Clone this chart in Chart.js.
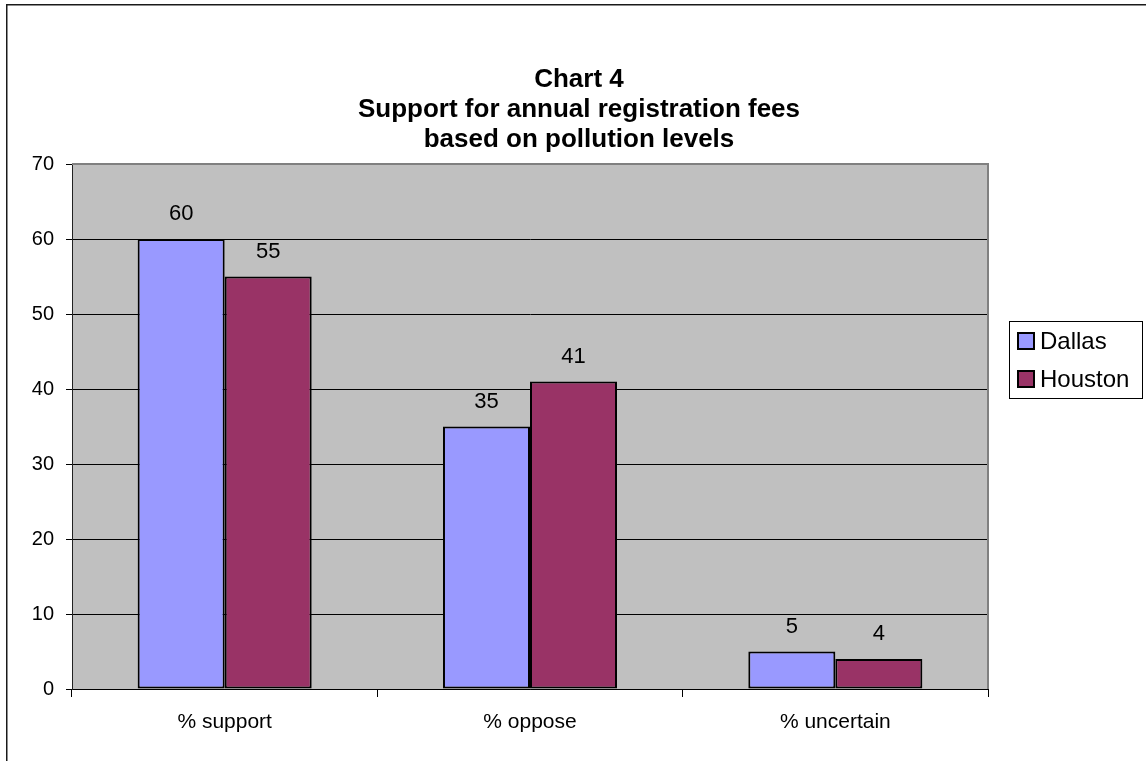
<!DOCTYPE html>
<html>
<head>
<meta charset="utf-8">
<script src="https://cdn.jsdelivr.net/npm/chart.js@4.4.1/dist/chart.umd.min.js"></script>
<style>
  html, body { margin: 0; padding: 0; background: #fff; }
  #wrap { width: 1146px; height: 761px; position: relative; }
</style>
</head>
<body>
<div id="wrap"><canvas id="c" width="1146" height="761"></canvas></div>
<script>
// Survey results: share of respondents per answer, by city
const categories = ['% support', '% oppose', '% uncertain'];
const dallas = [60, 35, 5];
const houston = [55, 41, 4];
const seriesNames = ['Dallas', 'Houston'];
const titleLines = ['Chart 4', 'Support for annual registration fees', 'based on pollution levels'];
const yTicks = [0, 10, 20, 30, 40, 50, 60, 70];

const FONT = '"Liberation Sans", Arial, sans-serif';

// Grey plot background plus the outer chart frame
const backdrop = {
  id: 'backdrop',
  beforeDraw(chart) {
    const { ctx, chartArea: a } = chart;
    ctx.save();
    ctx.fillStyle = '#ffffff';
    ctx.fillRect(0, 0, chart.width, chart.height);
    ctx.fillStyle = '#c0c0c0';
    ctx.fillRect(a.left, a.top, a.right - a.left, a.bottom - a.top);
    ctx.strokeStyle = '#1a1a1a';
    ctx.lineWidth = 1.5;
    ctx.strokeRect(6.75, 4.75, chart.width + 10, chart.height + 10);
    ctx.restore();
  },
  beforeDatasetsDraw(chart) {
    const { ctx, chartArea: a } = chart;
    ctx.save();
    ctx.strokeStyle = '#808080';
    ctx.lineWidth = 2;
    ctx.beginPath();
    ctx.moveTo(a.left, a.top);
    ctx.lineTo(a.right, a.top);
    ctx.lineTo(a.right, a.bottom);
    ctx.stroke();
    ctx.restore();
  }
};

// Three-line bold heading
const heading = {
  id: 'heading',
  afterDraw(chart) {
    const { ctx } = chart;
    ctx.save();
    ctx.fillStyle = '#000';
    ctx.font = 'bold 26px ' + FONT;
    ctx.textAlign = 'center';
    ctx.textBaseline = 'middle';
    titleLines.forEach((t, i) => ctx.fillText(t, 579, 80 + i * 30));
    ctx.restore();
  }
};

// Value printed above each bar
const valueLabels = {
  id: 'valueLabels',
  afterDatasetsDraw(chart) {
    const { ctx } = chart;
    ctx.save();
    ctx.fillStyle = '#000';
    ctx.font = '22px ' + FONT;
    ctx.textAlign = 'center';
    ctx.textBaseline = 'middle';
    chart.data.datasets.forEach((ds, di) => {
      chart.getDatasetMeta(di).data.forEach((bar, i) => {
        ctx.fillText(String(ds.data[i]), bar.x, bar.y - 25);
      });
    });
    ctx.restore();
  }
};

// Boxed legend to the right of the plot
const boxLegend = {
  id: 'boxLegend',
  afterDraw(chart) {
    const { ctx } = chart;
    const x = 1009, y = 321, w = 133, h = 77;
    ctx.save();
    ctx.fillStyle = '#fff';
    ctx.fillRect(x, y, w, h);
    ctx.strokeStyle = '#000';
    ctx.lineWidth = 1;
    ctx.strokeRect(x + 0.5, y + 0.5, w, h);
    ctx.font = '24px ' + FONT;
    ctx.textBaseline = 'middle';
    chart.data.datasets.forEach((ds, i) => {
      const cy = 341 + i * 38;
      ctx.fillStyle = ds.backgroundColor;
      ctx.fillRect(1018, cy - 8, 16, 16);
      ctx.lineWidth = 2;
      ctx.strokeStyle = '#000';
      ctx.strokeRect(1018, cy - 8, 16, 16);
      ctx.fillStyle = '#000';
      ctx.fillText(ds.label, 1040, cy + 1);
    });
    ctx.restore();
  }
};

new Chart(document.getElementById('c'), {
  type: 'bar',
  data: {
    labels: categories,
    datasets: [
      { label: seriesNames[0], data: dallas, backgroundColor: '#9999ff' },
      { label: seriesNames[1], data: houston, backgroundColor: '#993366' }
    ]
  },
  options: {
    responsive: false,
    animation: false,
    devicePixelRatio: 1,
    layout: { padding: { top: 164, right: 158, left: 0, bottom: 0 } },
    datasets: {
      bar: {
        borderColor: '#000',
        borderWidth: 2,
        borderSkipped: false,
        barPercentage: 1.0,
        categoryPercentage: 0.57
      }
    },
    plugins: {
      legend: { display: false },
      title: { display: false },
      tooltip: { enabled: false }
    },
    scales: {
      x: {
        offset: true,
        afterFit(s) { s.height = 72; },
        grid: {
          offset: true,
          drawOnChartArea: false,
          drawTicks: true,
          tickLength: 8,
          tickColor: '#000'
        },
        border: { color: '#000', width: 1 },
        ticks: { color: '#000', font: { family: FONT, size: 21 }, padding: 13 }
      },
      y: {
        min: 0,
        max: 70,
        afterFit(s) { s.width = 72; },
        afterBuildTicks(s) { s.ticks = yTicks.map(v => ({ value: v })); },
        grid: {
          color: (c) => (c.tick && c.tick.value === 70 ? '#808080' : '#000'),
          tickColor: '#000',
          tickLength: 6,
          lineWidth: 1
        },
        border: { color: '#222', width: 1 },
        ticks: { color: '#000', font: { family: FONT, size: 20 }, padding: 12 }
      }
    }
  },
  plugins: [backdrop, heading, valueLabels, boxLegend]
});
</script>
</body>
</html>
